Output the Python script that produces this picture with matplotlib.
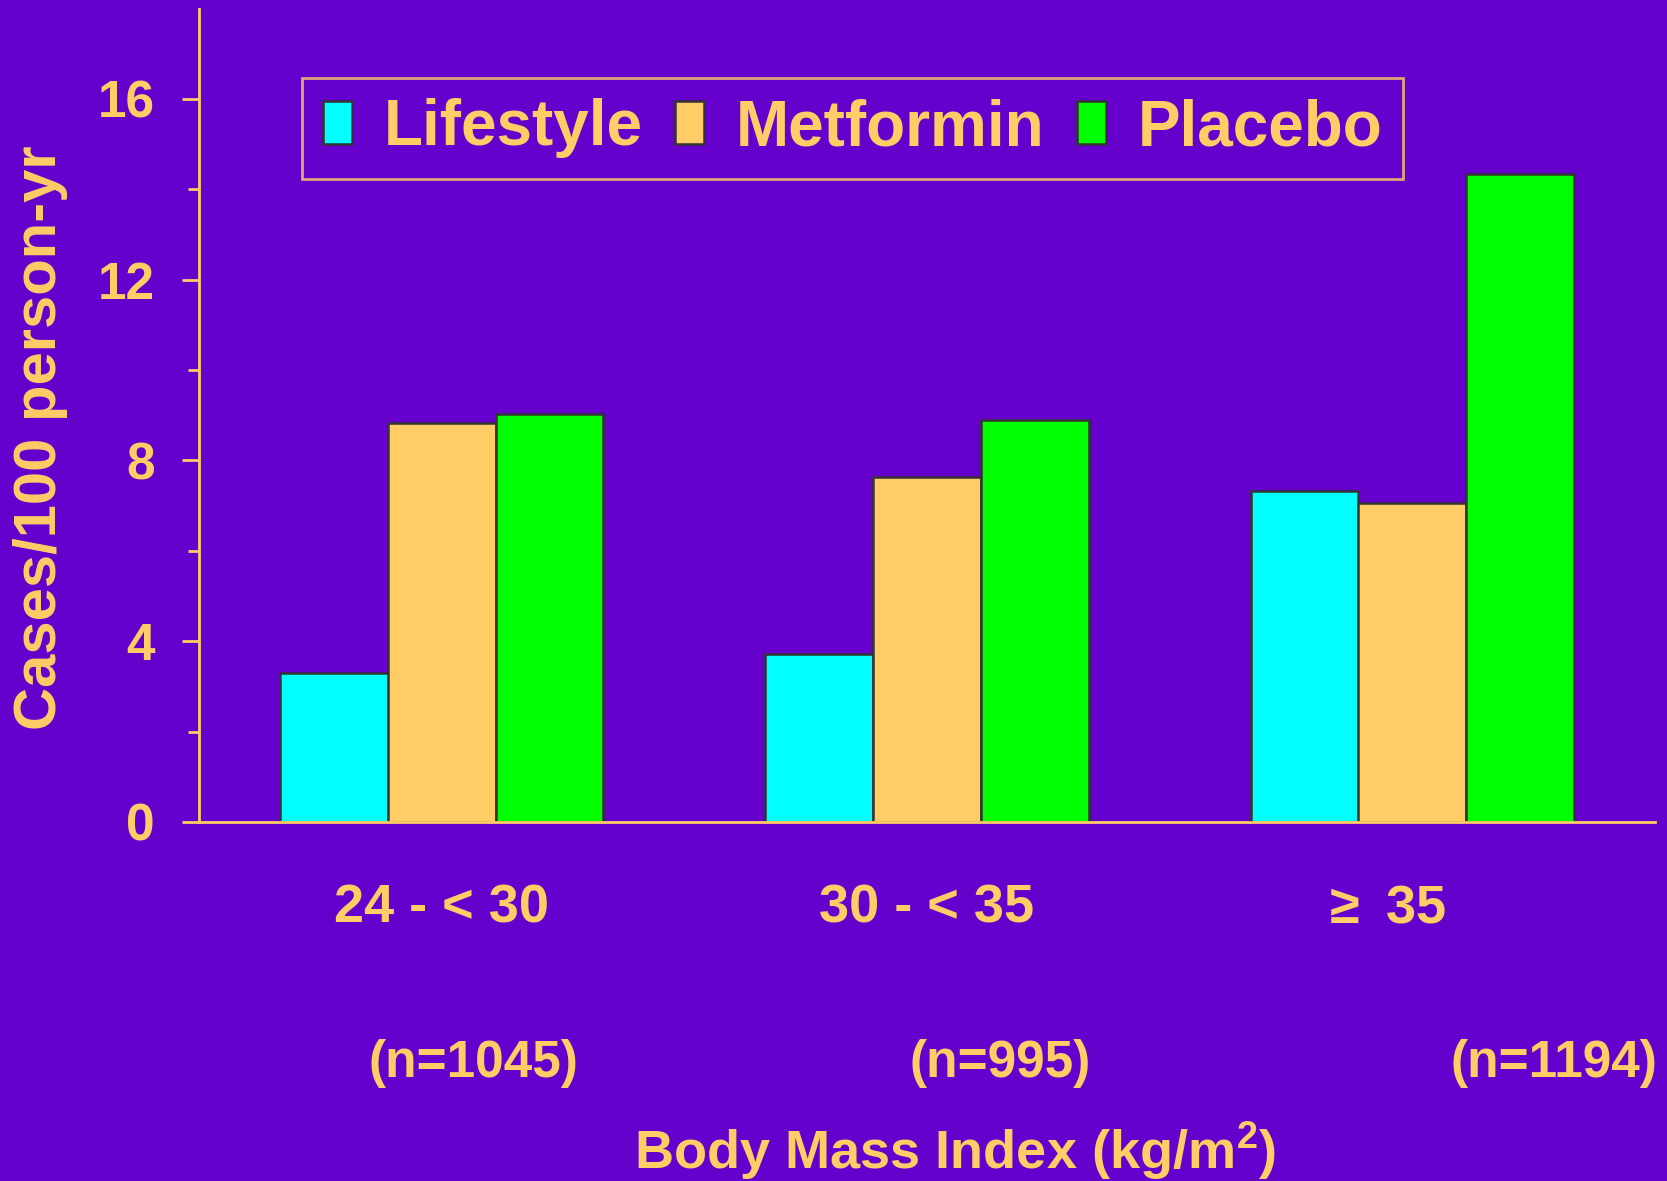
import matplotlib
matplotlib.use("Agg")
import matplotlib.pyplot as plt
import matplotlib.transforms as mtransforms
import numpy as np

# ---- data ----
categories = ["24 - < 30", "30 - < 35", r"$\geq$ 35"]
n_labels = ["(n=1045)", "(n=995)", "(n=1194)"]
series_names = ["Lifestyle", "Metformin", "Placebo"]
lifestyle = [3.30, 3.72, 7.33]
metformin = [8.83, 7.64, 7.05]
placebo = [9.02, 8.90, 14.34]
yticks_major = [0, 4, 8, 12, 16]
yticks_minor = [2, 6, 10, 14]

# ---- style ----
BG = "#6600CC"
TXT = "#FFCC66"
colors = ["#00FFFF", "#FFCC66", "#00FF00"]
EDGE = "#333333"
plt.rcParams["font.family"] = ["Liberation Sans", "DejaVu Sans"]
plt.rcParams["font.weight"] = "bold"
plt.rcParams["mathtext.fontset"] = "custom"
plt.rcParams["mathtext.rm"] = "Liberation Sans"
plt.rcParams["mathtext.bf"] = "Liberation Sans:bold"
plt.rcParams["mathtext.default"] = "rm"

fig = plt.figure(figsize=(16.67, 11.81), dpi=100, facecolor=BG)
ax = fig.add_axes([0.1194, 0.304, 0.8734, 0.6888])
ax.set_facecolor(BG)

x = np.arange(len(categories))
w = 0.222
for i, (vals, name) in enumerate(zip([lifestyle, metformin, placebo], series_names)):
    ax.bar(x + (i - 1) * w, vals, width=w, color=colors[i], edgecolor=EDGE,
           linewidth=1.8, label=name, zorder=2)

ax.set_xlim(-0.5, 2.5)
ax.set_ylim(0, 18)

for s in ["top", "right"]:
    ax.spines[s].set_visible(False)
for s in ["left", "bottom"]:
    ax.spines[s].set_color(TXT)
    ax.spines[s].set_linewidth(2.0)
    ax.spines[s].set_zorder(3)

ax.set_yticks(yticks_major)
ax.set_yticks(yticks_minor, minor=True)
ax.tick_params(axis="y", which="major", colors=TXT, length=12, width=2.0,
               labelsize=37, pad=20, direction="out")
ax.tick_params(axis="y", which="minor", colors=TXT, length=8, width=2.0, direction="out")
for lab in ax.get_yticklabels():
    lab.set_fontweight("bold")

ax.set_xticks(x)
ax.set_xticklabels(categories, fontsize=39, fontweight="bold", color=TXT)
ax.tick_params(axis="x", length=0, pad=44)
# the last category label sits slightly left of its group centre
last = ax.get_xticklabels()[-1]
last.set_transform(last.get_transform() +
                   mtransforms.ScaledTranslation(-0.3, 0, fig.dpi_scale_trans))

fig.text(0.0245, 0.629, "Cases/100 person-yr", rotation=90, ha="center", va="center",
         fontsize=43, fontweight="bold", color=TXT)

# n labels under categories
trans = mtransforms.blended_transform_factory(ax.transData, fig.transFigure)
n_offsets = [0.066, 0.151, 0.292]
for xi, lab, off in zip(x, n_labels, n_offsets):
    ax.text(xi + off, 0.0999, lab, transform=trans, ha="center", va="center",
            fontsize=37, fontweight="bold", color=TXT, clip_on=False)

fig.text(0.573, 0.0254, r"Body Mass Index (kg/m$^{\mathbf{2}}$)", ha="center", va="center",
         fontsize=39, fontweight="bold", color=TXT)

leg = ax.legend(loc="center", bbox_to_anchor=(0.449, 0.853), ncol=3, fontsize=46,
                frameon=True, fancybox=False, handlelength=0.46, handleheight=0.66,
                handletextpad=0.5, columnspacing=0.5, borderpad=0.32)
leg.get_frame().set_facecolor(BG)
leg.get_frame().set_edgecolor(TXT)
leg.get_frame().set_linewidth(2.0)
for t in leg.get_texts():
    t.set_color(TXT)
    t.set_fontweight("bold")

fig.savefig("out.png", dpi=100, facecolor=BG)
